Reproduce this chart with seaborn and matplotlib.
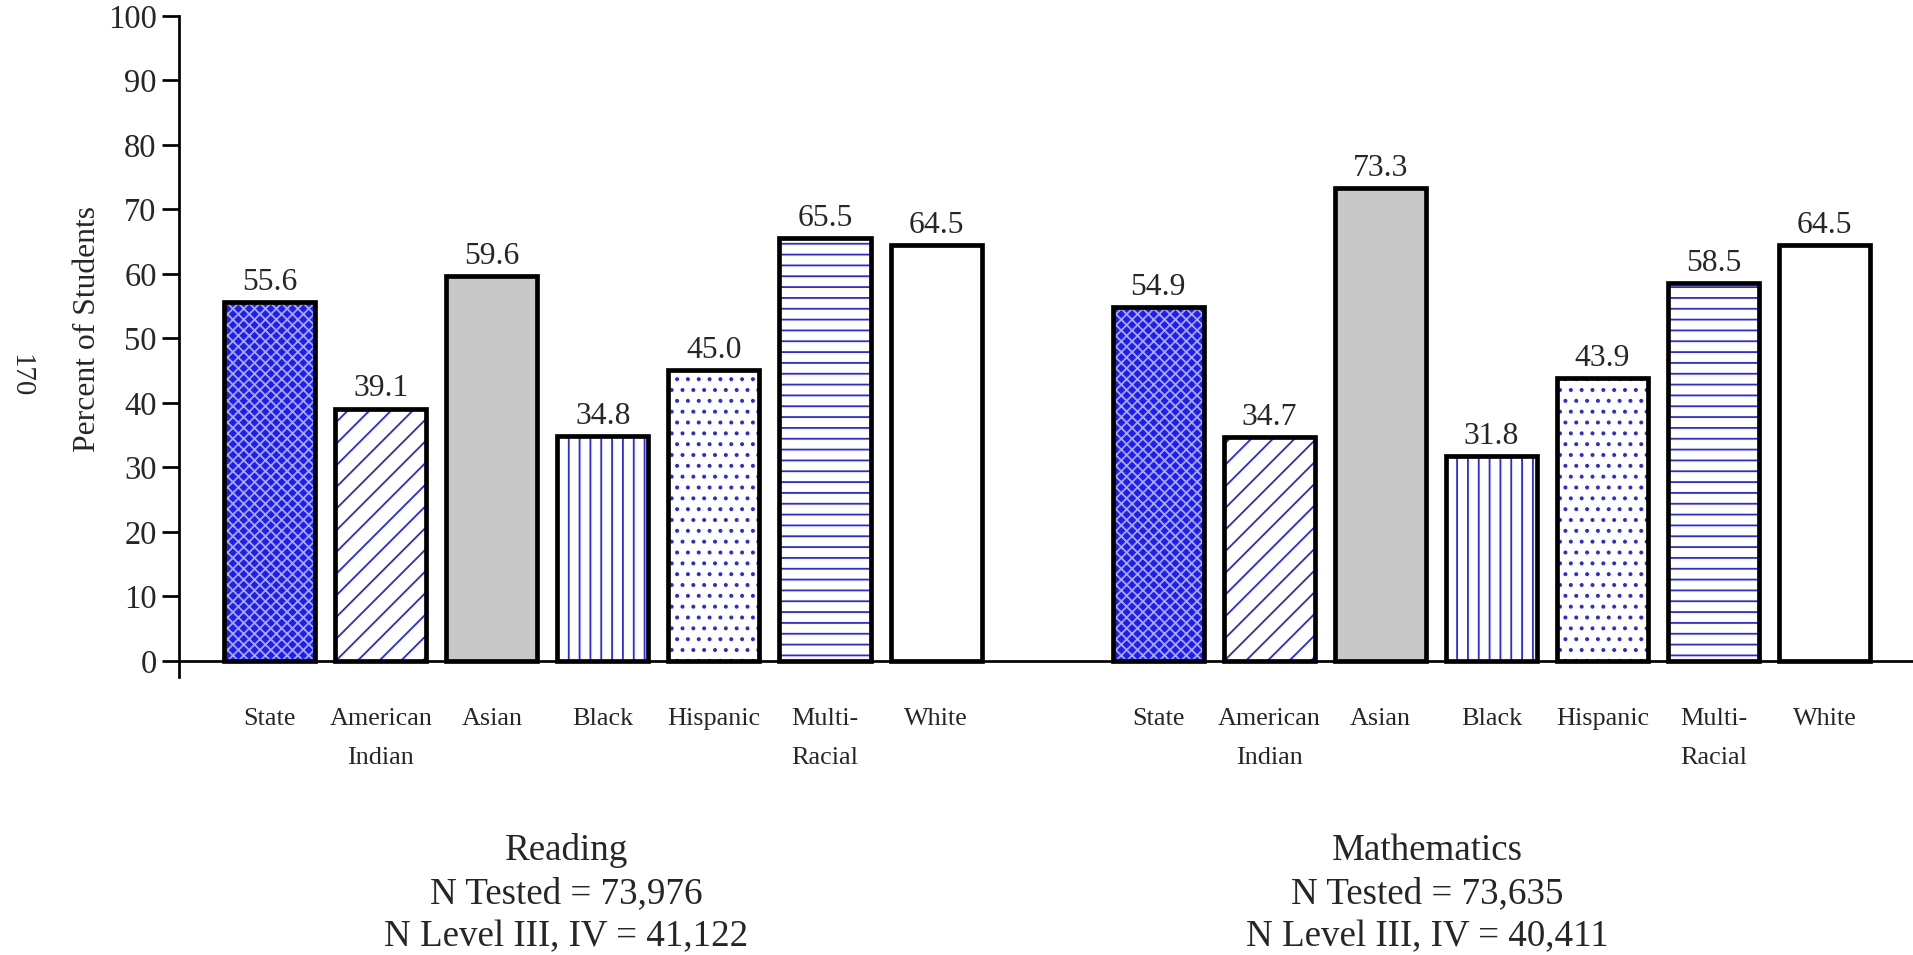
import pandas as pd
import matplotlib.pyplot as plt
import seaborn as sns

# Данные диаграммы
subjects = ['Reading', 'Mathematics']
groups = ['State', 'American Indian', 'Asian', 'Black', 'Hispanic', 'Multi-Racial', 'White']
group_labels = ['State', 'American\nIndian', 'Asian', 'Black', 'Hispanic', 'Multi-\nRacial', 'White']
reading_pct = [55.6, 39.1, 59.6, 34.8, 45.0, 65.5, 64.5]
math_pct = [54.9, 34.7, 73.3, 31.8, 43.9, 58.5, 64.5]
n_tested = ['73,976', '73,635']
n_level = ['41,122', '40,411']

# Оформление столбцов по группам: (заливка, штриховка, цвет штриховки)
blue = '#2a2ae0'
group_style = {
    'State': ('#1e1ef2', 'xxxx', '#a8a8ff'),
    'American Indian': ('white', '//', blue),
    'Asian': ('#c8c8c8', '', blue),
    'Black': ('white', '||', blue),
    'Hispanic': ('white', '..', blue),
    'Multi-Racial': ('white', '--', blue),
    'White': ('white', '', blue),
}

rows = []
for subj, vals in zip(subjects, [reading_pct, math_pct]):
    for g, v in zip(groups, vals):
        rows.append({'key': f'{subj}:{g}', 'group': g, 'pct': v})
df = pd.DataFrame(rows)
order = [f'{subjects[0]}:{g}' for g in groups] + ['gap'] + [f'{subjects[1]}:{g}' for g in groups]

sns.set_theme(style='white')
plt.rcParams['font.family'] = ['Liberation Serif', 'DejaVu Serif']
plt.rcParams['hatch.linewidth'] = 1.0

DPI = 130
fig = plt.figure(figsize=(1913.4 / DPI, 955.4 / DPI), dpi=DPI)
ax = fig.add_axes([179 / 1913, 1 - 677 / 955, 1734 / 1913, 661 / 955])

# слой заливки и штриховки
sns.barplot(data=df, x='key', y='pct', order=order, width=0.82, color='white',
            linewidth=0, ax=ax)
bars = sorted(ax.patches, key=lambda p: p.get_x())
keys_present = [k for k in order if k != 'gap']
for p, k in zip(bars, keys_present):
    face, hatch, hcol = group_style[k.split(':', 1)[1]]
    p.set_facecolor(face)
    p.set_hatch(hatch)
    p.set_edgecolor(hcol)
    p.set_linewidth(0)

# контуры столбцов
sns.barplot(data=df, x='key', y='pct', order=order, width=0.82, fill=False,
            color='black', linewidth=2.6, ax=ax)
ax.bar_label(ax.containers[-1], fmt='%.1f', padding=3, fontsize=17.5)

ax.set_xlim(-0.816, 14.80)
ax.set_ylim(-2.5, 100)
ax.set_yticks(range(0, 101, 10))
ax.spines['top'].set_visible(False)
ax.spines['right'].set_visible(False)
ax.spines['bottom'].set_position(('data', 0))
for s in ['left', 'bottom']:
    ax.spines[s].set_linewidth(1.5)
    ax.spines[s].set_color('black')

ax.set_xticks(range(len(order)))
ax.set_xticklabels(group_labels + [''] + group_labels, fontsize=14.5, linespacing=2.0, va='top')
ax.tick_params(axis='x', length=0, pad=26)
ax.tick_params(axis='y', direction='out', length=9.4, width=1.5, pad=3, labelsize=18, left=True, color='black')
ax.set_xlabel('')
ax.set_ylabel('Percent of Students', fontsize=17.5, va='center')
ax.yaxis.set_label_coords(-0.0525, 0.5265)

# подписи под группами
centers_x = [566, 1427]
for cx, subj, nt, nl in zip(centers_x, subjects, n_tested, n_level):
    lines = [subj, f'N Tested = {nt}', f'N Level III, IV = {nl}']
    for ly, txt in zip([850, 894, 937], lines):
        fig.text(cx / 1913, 1 - ly / 955, txt, ha='center', va='center', fontsize=20.5)

fig.text(20 / 1913, 1 - 376 / 955, '170', rotation=270, ha='center', va='center', fontsize=16)

fig.savefig('out.png', dpi=DPI)
